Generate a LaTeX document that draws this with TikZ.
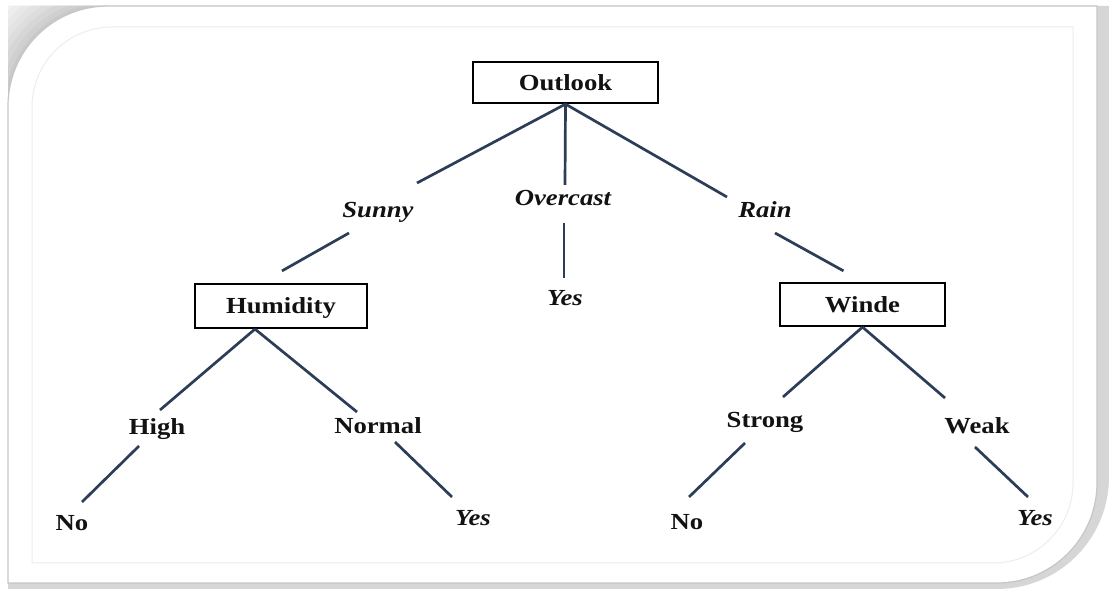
\documentclass[tikz,border=0pt]{standalone}
\usepackage{fontspec}
\usetikzlibrary{calc}
\newfontfamily\lblfont{Liberation Serif}[FakeStretch=1.16]
\definecolor{edgeblue}{HTML}{2C3D57}
\definecolor{inkblack}{HTML}{121212}
\tikzset{
  lbl/.style={font=\lblfont\bfseries\fontsize{23}{27}\selectfont, text=inkblack,
    inner sep=0pt, text height=18pt, text depth=2pt},
  ilbl/.style={lbl, font=\lblfont\bfseries\itshape\fontsize{23}{27}\selectfont},
  testbox/.style={lbl, draw=black, line width=2.2pt, fill=white, inner sep=0pt},
  edge/.style={draw=edgeblue, line width=2.7pt}
}
\begin{document}
\begin{tikzpicture}[x=1pt,y=1pt]
\useasboundingbox (0,0) rectangle (1109,589);
\fill[white] (0,0) rectangle (1109,589);

% card shadow along the bottom and right edges
\fill[gray!32] (8,0) -- (997,0) arc[start angle=-90,end angle=0,radius=112]
  -- (1109,583) -- (8,583) -- cycle;
% shaded notch outside the rounded top-left corner
\begin{scope}
  \clip (8,483) arc[start angle=180,end angle=90,radius=100] -- (8,583) -- cycle;
  \foreach \r/\c in {145/10,138/14,132/18,126/22,120/27,114/32,108/37,103/42}
    \fill[gray!\c] (108,483) circle[radius=\r];
\end{scope}
% the card itself
\fill[white, draw=gray!45, line width=1.2pt]
  (8,6) -- (8,483) arc[start angle=180,end angle=90,radius=100]
  -- (1097,583) -- (1097,106) arc[start angle=0,end angle=-90,radius=100] -- cycle;
% faint inner rule
\draw[gray!14, line width=1pt]
  (32,26) -- (32,482) arc[start angle=180,end angle=90,radius=80]
  -- (1073,562) -- (1073,106) arc[start angle=0,end angle=-90,radius=80] -- cycle;

% decision nodes
\node[testbox, minimum width=185pt, minimum height=41pt] (outlook) at (565.5,506.5) {Outlook};
\node[testbox, minimum width=172pt, minimum height=44pt] (humidity) at (281,283) {Humidity};
\node[testbox, minimum width=165pt, minimum height=43pt] (winde) at (862.5,284.5) {Winde};

% branch values and leaves
\node[ilbl] (sunny) at (378,379) {Sunny};
\node[ilbl] (overcast) at (563,391) {Overcast};
\node[ilbl] (rain) at (765,379) {Rain};
\node[ilbl] (yesO) at (565,291) {Yes};
\node[lbl] (high) at (157,162) {High};
\node[lbl] (normal) at (378,163) {Normal};
\node[lbl] (strong) at (765,169) {Strong};
\node[lbl] (weak) at (977,163) {Weak};
\node[lbl] (noH) at (72,66) {No};
\node[ilbl] (yesN) at (473,71) {Yes};
\node[lbl] (noS) at (687,67) {No};
\node[ilbl] (yesW) at (1035,71) {Yes};

% edges
\draw[edge] (outlook.south) -- ($(sunny)+(39,27)$);
\draw[edge] ($(sunny)+(-29,-23)$) -- ($(humidity.north)+(1,12)$);
\draw[edge] (outlook.south) -- ($(overcast)+(2,13)$);
\draw[edge] ($(overcast)+(1,-25)$) -- ($(yesO)+(-1,20)$);
\draw[edge] (outlook.south) -- ($(rain)+(-38,13)$);
\draw[edge] ($(rain)+(10,-23)$) -- ($(winde.north)+(-19,11)$);

\draw[edge] ($(humidity.south)+(-26,0)$) -- ($(high)+(3,17)$);
\draw[edge] ($(humidity.south)+(-26,0)$) -- ($(normal)+(-21,14)$);
\draw[edge] ($(high)+(-18,-19)$) -- ($(noH)+(10,21)$);
\draw[edge] ($(normal)+(17,-16)$) -- ($(yesN)+(-21,21)$);

\draw[edge] (winde.south) -- ($(strong)+(18,23)$);
\draw[edge] (winde.south) -- ($(weak)+(-32,28)$);
\draw[edge] ($(strong)+(-20,-23)$) -- ($(noS)+(2,25)$);
\draw[edge] ($(weak)+(-2,-21)$) -- ($(yesW)+(-7,21)$);
\end{tikzpicture}
\end{document}
